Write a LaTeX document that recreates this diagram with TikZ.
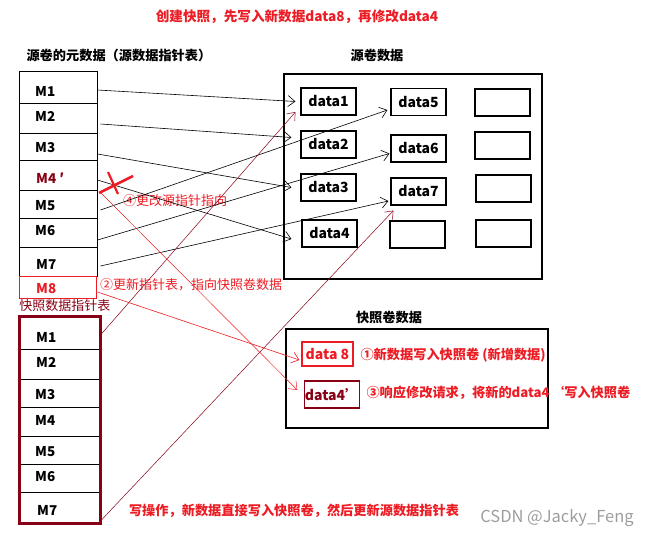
\documentclass[tikz,border=0pt]{standalone}
\usepackage{fontspec}
\setmainfont{Noto Sans CJK SC}
\usetikzlibrary{arrows.meta,calc}
\definecolor{pred}{HTML}{ED1C24}
\definecolor{dred}{HTML}{880015}
\begin{document}
\begin{tikzpicture}[x=1pt,y=-1pt,
  every node/.style={font=\fontsize{13}{15}\selectfont},
  box/.style={draw, line width=1.1pt, minimum width=55pt, minimum height=27pt, inner sep=0pt, font=\fontsize{14}{16}\selectfont\bfseries},
  row/.style={draw, line width=1pt, inner sep=0pt},
  lab/.style={anchor=west, inner sep=0pt, font=\fontsize{13.5}{16}\selectfont\bfseries},
  arr/.style={line width=0.6pt, -{Straight Barb[length=7pt,width=11pt]}},
  bt/.style={font=\fontsize{13.2}{15}\selectfont\bfseries},
  rt/.style={font=\fontsize{13}{15}\selectfont, text=pred},
]
\useasboundingbox[fill=white] (0,0) rectangle (651,538);

% titles
\node[font=\fontsize{13.6}{15}\selectfont\bfseries, text=pred] (title) at (297,17) {创建快照，先写入新数据data8，再修改data4};
\node[bt, anchor=west] (srcmeta) at (23,55) {源卷的元数据（源数据指针表）};
\node[bt] (srcvoltitle) at (377,55) {源卷数据};

% source pointer table
\node[row, minimum width=78pt, minimum height=32pt] (s1) at (58,87) {};
\node[row, minimum width=78pt, minimum height=30pt] (s2) at (58,118) {};
\node[row, minimum width=78pt, minimum height=27pt] (s3) at (58,146.5) {};
\node[row, minimum width=78pt, minimum height=30pt] (s4) at (58,175) {};
\node[row, minimum width=78pt, minimum height=28pt] (s5) at (58,204) {};
\node[row, minimum width=78pt, minimum height=29pt] (s6) at (58,232.5) {};
\node[row, minimum width=78pt, minimum height=29pt] (s7) at (58,261.5) {};
\node[row, draw=pred, minimum width=77pt, minimum height=22pt] (s8) at (57.5,287) {};
\node[lab] (ls1) at (35,91) {M1};
\node[lab] (ls2) at (35,116) {M2};
\node[lab] (ls3) at (35,148) {M3};
\node[lab, text=dred] (ls4) at (36,178) {M4 ′};
\node[lab] (ls5) at (35,206) {M5};
\node[lab] (ls6) at (35,231) {M6};
\node[lab] (ls7) at (36,264) {M7};
\node[lab, text=pred] (ls8) at (36,289) {M8};

% source volume
\node[draw, line width=1.1pt, minimum width=258pt, minimum height=205pt, inner sep=0pt] (sv) at (413,176.5) {};
\node[box] (d1) at (328.5,101.5) {data1};
\node[box] (d2) at (328.5,144.5) {data2};
\node[box] (d3) at (328.5,187.5) {data3};
\node[box] (d4) at (329.5,233.5) {data4};
\node[box] (d5) at (418.5,102) {data5};
\node[box] (d6) at (418.5,148.5) {data6};
\node[box] (d7) at (418.5,191.5) {data7};
\node[box] (e1) at (417.5,234.5) {};
\node[box] (c1) at (502.5,102.5) {};
\node[box] (c2) at (502.5,145.5) {};
\node[box] (c3) at (503.5,188.5) {};
\node[box] (c4) at (503.5,233.5) {};

% snapshot pointer table
\node[font=\fontsize{13}{15}\selectfont, text=dred] (snapmeta) at (65,306) {快照数据指针表};
\node[row, minimum width=80pt, minimum height=32pt] (t1) at (60,333) {};
\node[row, minimum width=80pt, minimum height=30pt] (t2) at (60,364) {};
\node[row, minimum width=80pt, minimum height=28pt] (t3) at (60,393) {};
\node[row, minimum width=80pt, minimum height=29pt] (t4) at (60,421.5) {};
\node[row, minimum width=80pt, minimum height=28pt] (t5) at (60,450) {};
\node[row, minimum width=80pt, minimum height=28pt] (t6) at (60,478) {};
\node[row, minimum width=80pt, minimum height=31pt] (t7) at (60,507.5) {};
\draw[dred, line width=3pt] (t1.north west) rectangle (t7.south east);
\node[lab] (lt1) at (36,337) {M1};
\node[lab] (lt2) at (36,362) {M2};
\node[lab] (lt3) at (35,395) {M3};
\node[lab] (lt4) at (35,420) {M4};
\node[lab] (lt5) at (35,452) {M5};
\node[lab] (lt6) at (35,477) {M6};
\node[lab] (lt7) at (37,510) {M7};

% snapshot volume
\node[bt] (snapvoltitle) at (389,317) {快照卷数据};
\node[draw, line width=1.1pt, minimum width=262pt, minimum height=99pt, inner sep=0pt] (snv) at (417,378.5) {};
\node[box, draw=pred, text=pred, minimum width=51pt, minimum height=24pt] (d8) at (327.5,354) {data 8};
\node[box, draw=dred, text=dred, minimum width=54pt, minimum height=27pt] (d4p) at (332,394.5) {data4'};
\node[bt, text=pred, anchor=west] (note1) at (357,355) {①新数据写入快照卷 (新增数据)};
\node[bt, text=pred, anchor=west] (note3) at (363,393) {③响应修改请求，将新的data4\hspace{0.1em}‘写入快照卷};

% other labels
\node[rt] (note4) at (175,201) {④更改源指针指向};
\node[rt] (note2) at (191,285) {②更新指针表，指向快照卷数据};
\node[bt, text=pred] (note5) at (294,511) {写操作，新数据直接写入快照卷，然后更新源数据指针表};
\node[font=\fontsize{16.5}{18}\selectfont, text=black!38] (wm) at (557,518) {CSDN @Jacky\_Feng};

% black pointers
\draw[arr] ($(s1.east)+(0,3)$) -- ($(d1.west)+(-5,0)$);
\draw[arr] ($(s2.east)+(3,6)$) -- ($(d2.west)+(-9,-7)$);
\draw[arr] ($(s3.east)+(0,7.5)$) -- ($(d3.west)+(-9,0)$);
\draw[arr] ($(s4.east)+(0,5)$) -- ($(d4.west)+(-10,5.5)$);
\draw[arr] ($(s5.east)+(3,6)$) -- ($(d5.west)+(-3,8)$);
\draw[arr] ($(s6.east)+(0,7.5)$) -- ($(d6.west)+(-1,5)$);
\draw[arr] ($(s7.east)+(3,4.5)$) -- ($(d7.west)+(-2,9.5)$);

% snapshot pointers (dark red)
\draw[arr, dred, line width=0.5pt] ($(t1.east)+(0,2)$) -- ($(d1.west)+(-5,10.5)$);
\draw[arr, dred, line width=0.5pt] ($(t7.east)+(0,13.5)$) -- ($(d7.south west)+(3,5)$);

% red pointers
\draw[arr, pred, line width=0.6pt] ($(s8.east)+(1,5)$) -- ($(d8.west)+(-2,6)$);
\draw[arr, pred, line width=0.5pt] ($(s4.south east)+(3,2)$) -- ($(d4p.west)+(-7,-4.5)$);

% red cross
\draw[pred, line width=2.6pt] (99,193) -- (133,176);
\draw[pred, line width=2.2pt] (108,172) -- (118,194);
\end{tikzpicture}
\end{document}
